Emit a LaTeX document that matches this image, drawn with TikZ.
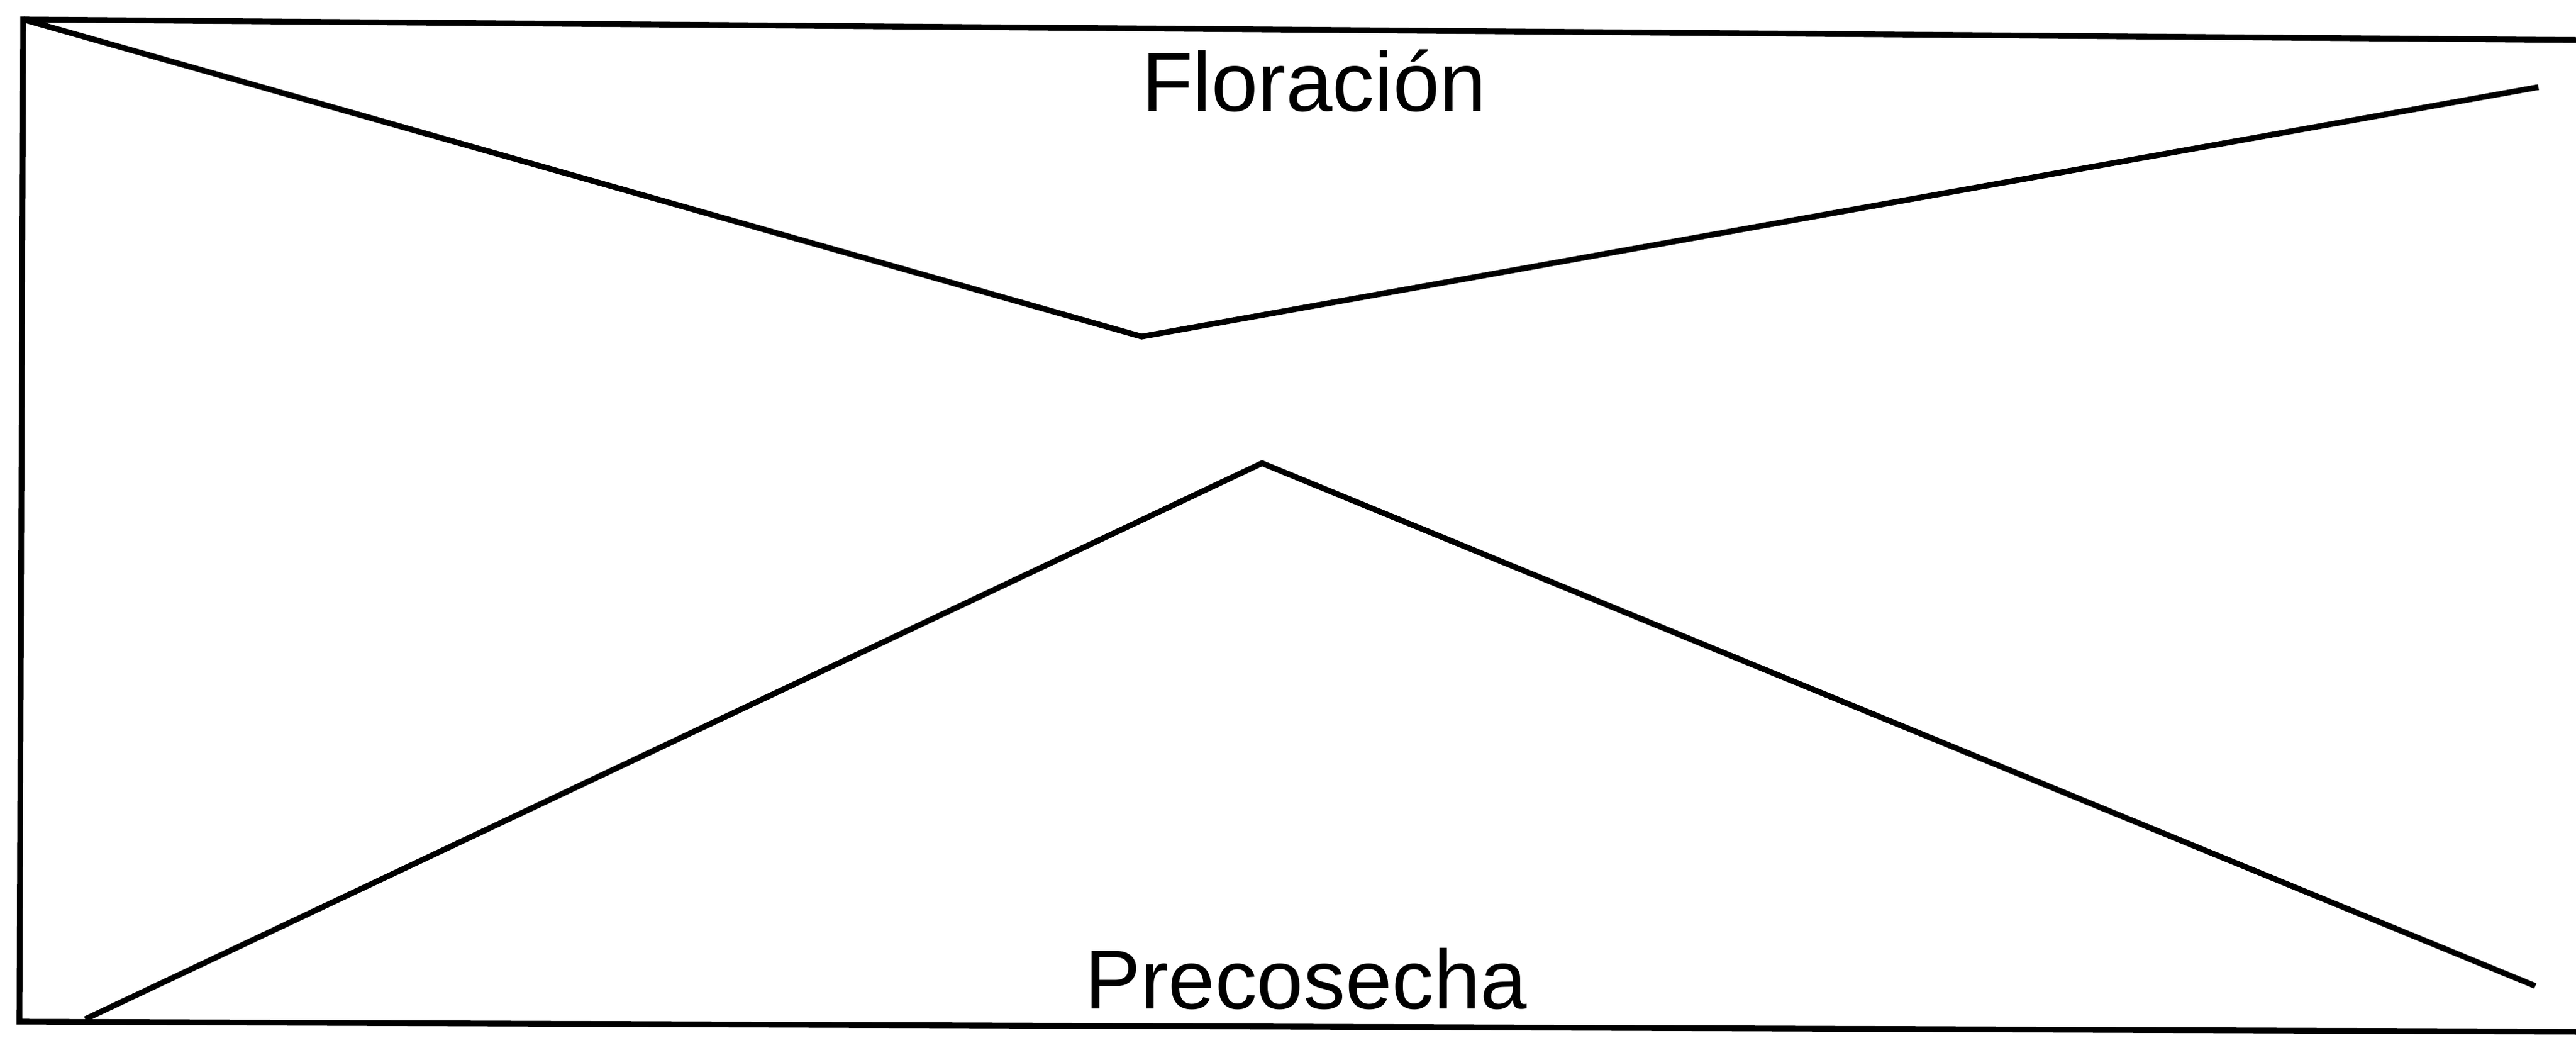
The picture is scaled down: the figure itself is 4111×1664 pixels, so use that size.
\documentclass[tikz,border=0pt]{standalone}
\usepackage{fontspec}
\setmainfont{Liberation Sans}
\begin{document}
\begin{tikzpicture}[x=0.01cm,y=-0.01cm,
  ink/.style={line width=2.6pt,black,line join=miter},
  label/.style={font=\fontsize{38}{40}\selectfont,anchor=base,inner sep=0pt}]
\useasboundingbox (0,0) rectangle (4111,1664);
\begin{scope}
\clip (0,0) rectangle (4111,1664);
% frame
\coordinate (tl) at (37,31);
\coordinate (tr) at (4130,64);
\coordinate (bl) at (31,1630);
\coordinate (br) at (4130,1646);
\draw[ink] (tr) -- (tl) -- (bl) -- (br);
% upper broken line
\coordinate (u1) at (37,31);
\coordinate (u2) at (1822,537);
\coordinate (u3) at (4051,139);
\draw[ink] (u1) -- (u2) -- (u3);
% lower broken line
\coordinate (l1) at (136,1626);
\coordinate (l2) at (2014,739);
\coordinate (l3) at (4046,1573);
\draw[ink] (l1) -- (l2) -- (l3);
\end{scope}
\node[label] (flor) at (2097,178) {Floración};
\node[label] (prec) at (2084,1609) {Precosecha};
\end{tikzpicture}
\end{document}
